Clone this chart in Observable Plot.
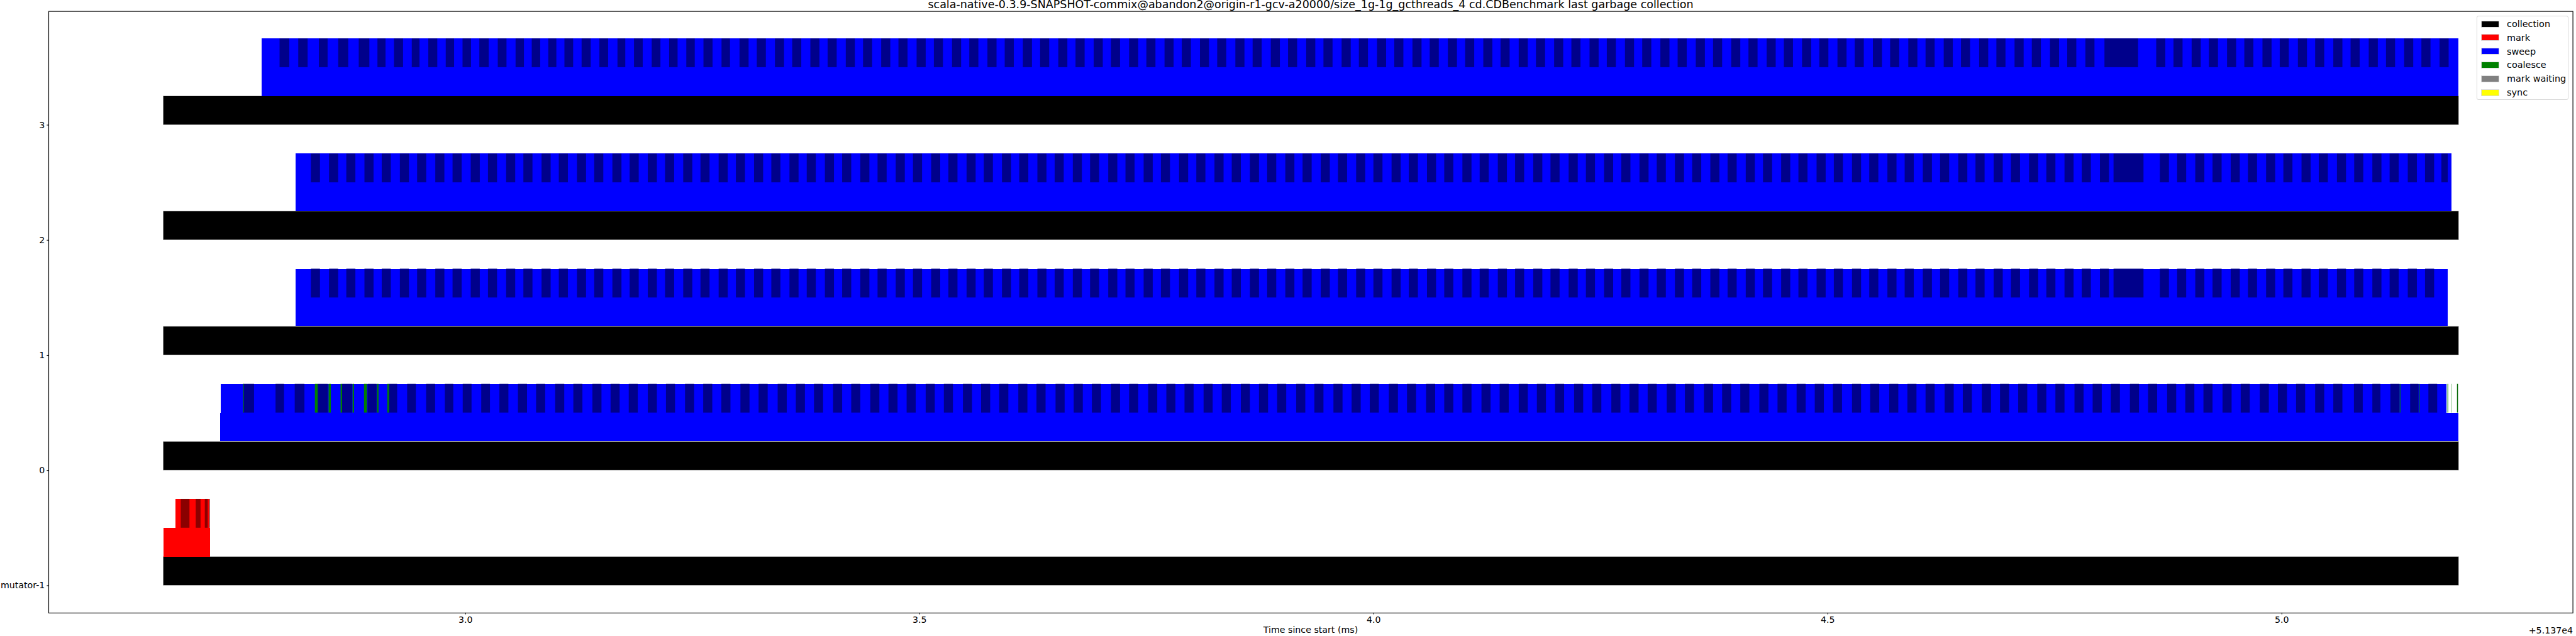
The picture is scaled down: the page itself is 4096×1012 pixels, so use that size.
<!DOCTYPE html>
<html><head><meta charset="utf-8">
<script src="https://cdn.jsdelivr.net/npm/d3@7"></script>
<script src="https://cdn.jsdelivr.net/npm/@observablehq/plot@0.6"></script>
<style>
html,body{margin:0;padding:0;background:#fff;}
#wrap{position:relative;width:4096px;height:1012px;font-family:"DejaVu Sans",sans-serif;color:#000;}
#title{position:absolute;left:0;width:4168px;top:-3px;text-align:center;font-size:17.5px;white-space:nowrap;}
#xlabel{position:absolute;left:0;width:4168px;top:994px;text-align:center;font-size:14.2px;}
#offset{position:absolute;right:5px;top:995px;font-size:14.2px;}
#legend{position:absolute;left:3938px;top:25px;width:146px;height:134px;border:1px solid #d6d6d6;border-radius:3px;background:rgba(255,255,255,0.8);box-sizing:border-box;}
.li{position:absolute;left:6px;height:22px;display:flex;align-items:center;font-size:14.4px;}
.sw{width:29px;height:11px;margin-right:12px;box-sizing:border-box;border:0.5px solid #ddd;}
</style></head>
<body><div id="wrap"><div id="title"></div><div id="xlabel"></div><div id="offset"></div><div id="legend"></div></div>
<script>
const titleText = "scala-native-0.3.9-SNAPSHOT-commix@abandon2@origin-r1-gcv-a20000/size_1g-1g_gcthreads_4 cd.CDBenchmark last garbage collection";
const xLabelText = "Time since start (ms)";
const offsetText = "+5.137e4";
const xTicks = [3.0, 3.5, 4.0, 4.5, 5.0];
const yTicks = [-1, 0, 1, 2, 3];
const yTickLabels = ["mutator-1", "0", "1", "2", "3"];
const legendNames = ["collection", "mark", "sweep", "coalesce", "mark waiting", "sync"];
const legendColors = ["black", "red", "blue", "green", "gray", "yellow"];

// per thread row: collection span, phase span (lower), batch strip span (upper)
const rowIds = [-1, 0, 1, 2, 3];
const collectionStart = [2.6673, 2.6673, 2.6673, 2.6673, 2.6673];
const collectionEnd = [5.1950, 5.1950, 5.1950, 5.1950, 5.1950];
const phaseKind = ["mark", "sweep", "sweep", "sweep", "sweep"];
const phaseStart = [2.6677, 2.7304, 2.8130, 2.8130, 2.7756];
const phaseEnd = [2.7190, 5.1950, 5.1830, 5.1870, 5.1950];
const stripStart = [2.6806, 2.7308, 2.8130, 2.8130, 2.7756];
const stripEnd = [2.7186, 5.1816, 5.1830, 5.1870, 5.1950];

// alternating (dark) batches in the upper strip
const darkMutator = [[2.6867,2.6963],[2.7032,2.7085],[2.7132,2.7164],[2.7176,2.7186]];
const dark0 = [[2.7556,2.7674],[2.7911,2.8004],[2.8122,2.8229],[2.8375,2.8487],[2.8644,2.8754],[2.8924,2.9023],[2.9160,2.9250],[2.9360,2.9456],[2.9569,2.9668],[2.9775,2.9868],[2.9972,3.0069],[3.0176,3.0272],[3.0376,3.0475],
  [3.058,3.068],[3.078,3.088],[3.099,3.109],[3.119,3.129],[3.140,3.150],[3.160,3.170],[3.180,3.190],[3.201,3.211],[3.221,3.231],[3.242,3.252],[3.262,3.272],[3.282,3.292],[3.303,3.313],[3.323,3.333],[3.344,3.354],[3.364,3.374],[3.384,3.394],[3.405,3.415],[3.425,3.435],[3.446,3.456],[3.466,3.476],[3.486,3.496],[3.507,3.517],[3.527,3.537],[3.548,3.558],[3.568,3.578],[3.588,3.598],[3.609,3.619],[3.629,3.639],[3.650,3.660],[3.670,3.680],[3.690,3.700],[3.711,3.721],[3.731,3.741],[3.752,3.762],[3.772,3.782],[3.792,3.802],[3.813,3.823],[3.833,3.843],[3.854,3.864],[3.874,3.884],[3.894,3.904],[3.915,3.925],[3.935,3.945],[3.956,3.966],[3.976,3.986],[3.996,4.006],[4.017,4.027],[4.037,4.047],[4.058,4.068],[4.078,4.088],[4.098,4.108],[4.119,4.129],[4.139,4.149],[4.160,4.170],[4.180,4.190],[4.200,4.210],[4.221,4.231],[4.241,4.251],[4.262,4.272],[4.282,4.292],[4.302,4.312],[4.323,4.333],[4.343,4.353],[4.364,4.374],[4.384,4.394],[4.404,4.414],[4.425,4.435],[4.445,4.455],[4.466,4.476],[4.486,4.496],[4.506,4.516],[4.527,4.537],[4.547,4.557],[4.568,4.578],[4.588,4.598],[4.608,4.618],[4.629,4.639],[4.649,4.659],[4.670,4.680],[4.690,4.700],[4.710,4.720],[4.731,4.741],[4.751,4.761],[4.772,4.782],[4.792,4.802],[4.812,4.822],[4.833,4.843],[4.853,4.863],[4.874,4.884],[4.894,4.904],[4.914,4.924],[4.935,4.945],[4.955,4.965],[4.976,4.986],[4.996,5.006],[5.016,5.026],[5.037,5.047],[5.057,5.067],
  [5.0797,5.0894],[5.1000,5.1089],[5.1198,5.1298],[5.1416,5.1508],[5.1617,5.1714]];
const dark1 = [[2.830,2.840],[2.850,2.860],[2.869,2.879],[2.889,2.899],[2.908,2.918],[2.928,2.938],[2.947,2.957],[2.967,2.977],[2.986,2.996],[3.006,3.016],[3.025,3.035],[3.045,3.055],[3.064,3.074],[3.084,3.094],[3.103,3.113],[3.123,3.133],[3.142,3.152],[3.162,3.172],[3.181,3.191],[3.201,3.211],[3.220,3.230],[3.240,3.250],[3.259,3.269],[3.279,3.289],[3.298,3.308],[3.318,3.328],[3.337,3.347],[3.357,3.367],[3.376,3.386],[3.396,3.406],[3.415,3.425],[3.435,3.445],[3.454,3.464],[3.474,3.484],[3.493,3.503],[3.513,3.523],[3.532,3.542],[3.552,3.562],[3.571,3.581],[3.591,3.601],[3.610,3.620],[3.630,3.640],[3.649,3.659],[3.669,3.679],[3.688,3.698],[3.708,3.718],[3.727,3.737],[3.747,3.757],[3.766,3.776],[3.786,3.796],[3.805,3.815],[3.825,3.835],[3.844,3.854],[3.864,3.874],[3.883,3.893],[3.903,3.913],[3.922,3.932],[3.942,3.952],[3.961,3.971],[3.981,3.991],[4.000,4.010],[4.020,4.030],[4.039,4.049],[4.059,4.069],[4.078,4.088],[4.098,4.108],[4.117,4.127],[4.137,4.147],[4.156,4.166],[4.176,4.186],[4.195,4.205],[4.215,4.225],[4.234,4.244],[4.254,4.264],[4.273,4.283],[4.293,4.303],[4.312,4.322],[4.332,4.342],[4.351,4.361],[4.371,4.381],[4.390,4.400],[4.410,4.420],[4.429,4.439],[4.449,4.459],[4.468,4.478],[4.488,4.498],[4.507,4.517],[4.527,4.537],[4.546,4.556],[4.566,4.576],[4.585,4.595],[4.605,4.615],[4.624,4.634],[4.644,4.654],[4.663,4.673],[4.683,4.693],[4.702,4.712],[4.722,4.732],[4.741,4.751],[4.761,4.771],[4.780,4.790],[4.800,4.810],[4.815,4.848],[4.866,4.876],[4.885,4.895],[4.905,4.915],[4.924,4.934],[4.944,4.954],[4.963,4.973],[4.983,4.993],[5.002,5.012],[5.022,5.032],[5.041,5.051],[5.061,5.071],[5.080,5.090],[5.100,5.110],[5.119,5.129],[5.139,5.149],[5.158,5.168]];
// row 2 reads with the same cadence as row 1 in the picture
const dark2 = [[2.830,2.840],[2.850,2.860],[2.869,2.879],[2.889,2.899],[2.908,2.918],[2.928,2.938],[2.947,2.957],[2.967,2.977],[2.986,2.996],[3.006,3.016],[3.025,3.035],[3.045,3.055],[3.064,3.074],[3.084,3.094],[3.103,3.113],[3.123,3.133],[3.142,3.152],[3.162,3.172],[3.181,3.191],[3.201,3.211],[3.220,3.230],[3.240,3.250],[3.259,3.269],[3.279,3.289],[3.298,3.308],[3.318,3.328],[3.337,3.347],[3.357,3.367],[3.376,3.386],[3.396,3.406],[3.415,3.425],[3.435,3.445],[3.454,3.464],[3.474,3.484],[3.493,3.503],[3.513,3.523],[3.532,3.542],[3.552,3.562],[3.571,3.581],[3.591,3.601],[3.610,3.620],[3.630,3.640],[3.649,3.659],[3.669,3.679],[3.688,3.698],[3.708,3.718],[3.727,3.737],[3.747,3.757],[3.766,3.776],[3.786,3.796],[3.805,3.815],[3.825,3.835],[3.844,3.854],[3.864,3.874],[3.883,3.893],[3.903,3.913],[3.922,3.932],[3.942,3.952],[3.961,3.971],[3.981,3.991],[4.000,4.010],[4.020,4.030],[4.039,4.049],[4.059,4.069],[4.078,4.088],[4.098,4.108],[4.117,4.127],[4.137,4.147],[4.156,4.166],[4.176,4.186],[4.195,4.205],[4.215,4.225],[4.234,4.244],[4.254,4.264],[4.273,4.283],[4.293,4.303],[4.312,4.322],[4.332,4.342],[4.351,4.361],[4.371,4.381],[4.390,4.400],[4.410,4.420],[4.429,4.439],[4.449,4.459],[4.468,4.478],[4.488,4.498],[4.507,4.517],[4.527,4.537],[4.546,4.556],[4.566,4.576],[4.585,4.595],[4.605,4.615],[4.624,4.634],[4.644,4.654],[4.663,4.673],[4.683,4.693],[4.702,4.712],[4.722,4.732],[4.741,4.751],[4.761,4.771],[4.780,4.790],[4.800,4.810],[4.815,4.848],[4.866,4.876],[4.885,4.895],[4.905,4.915],[4.924,4.934],[4.944,4.954],[4.963,4.973],[4.983,4.993],[5.002,5.012],[5.022,5.032],[5.041,5.051],[5.061,5.071],[5.080,5.090],[5.100,5.110],[5.119,5.129],[5.139,5.149],[5.158,5.168],[5.176,5.183]];
const dark3 = [[2.7955,2.8062],[2.8161,2.8264],[2.8388,2.8484],[2.8601,2.8711],[2.8827,2.8944],[2.9033,2.9122],[2.9215,2.9315],[2.9411,2.9496],[2.9593,2.9692],[2.9785,2.9877],[2.9970,3.0063],[3.0155,3.0258],[3.0358,3.0454],[3.0554,3.0646],[3.0732,3.0825],[3.0914,3.1003],[3.1092,3.1188],[3.1281,3.1381],[3.1477,3.1573],[3.1676,3.1762],[3.1858,3.1954],[3.2053,3.2149],[3.2245,3.2338],[3.2434,3.2527],[3.2623,3.2723],[3.2822,3.2915],
  [3.302,3.312],[3.321,3.331],[3.341,3.351],[3.360,3.370],[3.380,3.390],[3.399,3.409],[3.419,3.429],[3.438,3.448],[3.458,3.468],[3.477,3.487],[3.497,3.507],[3.516,3.526],[3.536,3.546],[3.555,3.565],[3.575,3.585],[3.594,3.604],[3.614,3.624],[3.633,3.643],[3.653,3.663],[3.672,3.682],[3.692,3.702],[3.711,3.721],[3.731,3.741],[3.750,3.760],[3.770,3.780],[3.789,3.799],[3.809,3.819],[3.828,3.838],[3.848,3.858],[3.867,3.877],[3.887,3.897],[3.906,3.916],[3.926,3.936],[3.945,3.955],[3.965,3.975],[3.984,3.994],[4.004,4.014],[4.023,4.033],[4.043,4.053],[4.062,4.072],[4.082,4.092],[4.101,4.111],[4.121,4.131],[4.140,4.150],[4.160,4.170],[4.179,4.189],[4.199,4.209],[4.218,4.228],[4.238,4.248],[4.257,4.267],[4.277,4.287],[4.296,4.306],[4.316,4.326],[4.335,4.345],[4.355,4.365],[4.374,4.384],[4.394,4.404],[4.413,4.423],[4.433,4.443],[4.452,4.462],[4.472,4.482],[4.491,4.501],[4.511,4.521],[4.530,4.540],[4.550,4.560],[4.569,4.579],[4.589,4.599],[4.608,4.618],[4.628,4.638],[4.647,4.657],[4.667,4.677],[4.686,4.696],[4.706,4.716],[4.725,4.735],[4.745,4.755],[4.764,4.774],[4.784,4.794],[4.805,4.842],[4.862,4.872],[4.881,4.891],[4.901,4.911],[4.920,4.930],[4.940,4.950],[4.959,4.969],[4.979,4.989],[4.998,5.008],[5.018,5.028],[5.037,5.047],[5.057,5.067],[5.076,5.086],[5.096,5.106],[5.115,5.125],[5.135,5.145],[5.154,5.164],[5.174,5.184]];
// coalesce batches (green / dark green) in row 0
const green0 = [[2.7554,2.7561],[2.8344,2.8375],[2.8495,2.8520],[2.8627,2.8644],[2.8759,2.8775],[2.8885,2.8918],[2.9028,2.9045],[2.9141,2.9160],[5.1301,5.1309],[5.1516,5.1522],[5.1822,5.1825],[5.1831,5.1836],[5.1872,5.1875]];
const darkGreen0 = [[5.1932,5.1943]];

const colors = {collection:"black", mark:"red", sweep:"blue", coalesce:"green"};
const darkColors = {mark:"darkred", sweep:"darkblue", coalesce:"darkgreen"};

const collections = rowIds.map((r,i) => ({y: r, x1: collectionStart[i], x2: collectionEnd[i]}));
const phases = rowIds.map((r,i) => ({y: r, x1: phaseStart[i], x2: phaseEnd[i], kind: phaseKind[i]}));
const strips = rowIds.map((r,i) => ({y: r, x1: stripStart[i], x2: stripEnd[i], kind: phaseKind[i]}));
const darkLists = [darkMutator, dark0, dark1, dark2, dark3];
const darks = rowIds.flatMap((r,i) => darkLists[i].map(([a,b]) => ({y: r, x1: a, x2: b, kind: phaseKind[i]})));
const greens = green0.map(([a,b]) => ({y: 0, x1: a, x2: b, c: "green"}))
  .concat(darkGreen0.map(([a,b]) => ({y: 0, x1: a, x2: b, c: "darkgreen"})));

const plot = Plot.plot({
  width: 4096, height: 1012,
  marginLeft: 77, marginRight: 5.4, marginTop: 17.6, marginBottom: 37.1,
  style: {fontFamily: "DejaVu Sans", fontSize: "14.2px", background: "transparent", color: "black"},
  x: {domain: [2.541, 5.3205], ticks: xTicks, tickFormat: d3.format(".1f"), tickSize: 2.7, tickPadding: 3, label: null},
  y: {domain: [-1.2375, 3.9875], ticks: yTicks, tickFormat: d => yTickLabels[yTicks.indexOf(d)], tickSize: 2.7, tickPadding: 3.5, label: null},
  marks: [
    Plot.rect(collections, {x1: "x1", x2: "x2", y1: d => d.y, y2: d => d.y + 0.25, fill: "black", stroke: "#d3d3d3", strokeWidth: 0.5}),
    Plot.rect(phases, {x1: "x1", x2: "x2", y1: d => d.y + 0.25, y2: d => d.y + 0.5, fill: d => colors[d.kind], shapeRendering: "crispEdges"}),
    Plot.rect(strips, {x1: "x1", x2: "x2", y1: d => d.y + 0.5, y2: d => d.y + 0.75, fill: d => colors[d.kind], shapeRendering: "crispEdges"}),
    Plot.rect(darks, {x1: "x1", x2: "x2", y1: d => d.y + 0.5, y2: d => d.y + 0.75, fill: d => darkColors[d.kind]}),
    Plot.rect(greens, {x1: "x1", x2: "x2", y1: d => d.y + 0.5, y2: d => d.y + 0.75, fill: d => d.c}),
    Plot.frame({stroke: "black", strokeWidth: 1.15})
  ]
});
plot.style.position = "absolute"; plot.style.left = "0"; plot.style.top = "0";
document.getElementById("wrap").prepend(plot);
document.getElementById("title").textContent = titleText;
document.getElementById("xlabel").textContent = xLabelText;
document.getElementById("offset").textContent = offsetText;
const lg = document.getElementById("legend");
legendNames.forEach((n,i) => {
  const d = document.createElement("div"); d.className = "li"; d.style.top = (1 + i*21.8) + "px";
  const s = document.createElement("span"); s.className = "sw"; s.style.background = legendColors[i];
  const t = document.createElement("span"); t.textContent = n;
  d.append(s, t); lg.append(d);
});
</script></body></html>
